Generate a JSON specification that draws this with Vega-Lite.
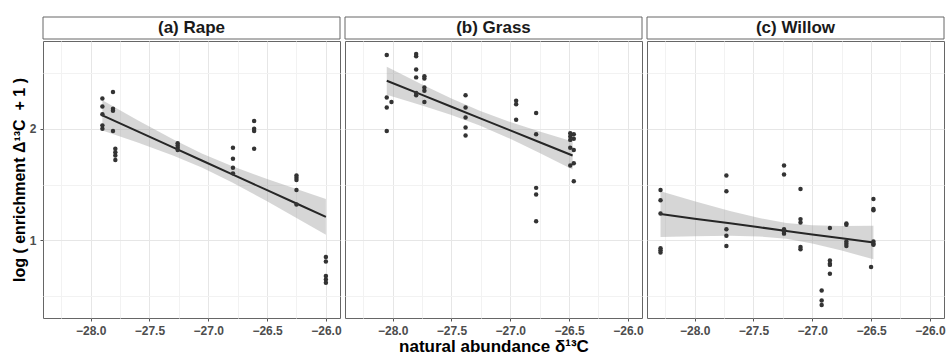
{
 "$schema": "https://vega.github.io/schema/vega-lite/v6.json",
 "background": "white",
 "padding": {"left": 10, "top": 16, "right": 0, "bottom": 0},
 "spacing": 2,
 "config": {
  "view": {"stroke": "#666666", "strokeWidth": 1},
  "axis": {"domain": false, "grid": true, "labelFont": "Liberation Sans", "labelFontWeight": "bold", "labelFontSize": 12, "labelColor": "#4d4d4d", "tickColor": "#555555", "tickSize": 3, "labelPadding": 4, "titleFont": "Liberation Sans", "titleFontWeight": "bold", "titleFontSize": 17, "titleColor": "#000000", "titlePadding": 2, "labelOverlap": false}
 },
 "datasets": {
  "strips": [{"panel": "a", "label": "(a) Rape"}, {"panel": "b", "label": "(b) Grass"}, {"panel": "c", "label": "(c) Willow"}],
  "fit": [
   {"panel": "a", "x": -27.9, "y": 2.12, "lo": 1.985, "hi": 2.255},
   {"panel": "a", "x": -27.6, "y": 1.976, "lo": 1.876, "hi": 2.076},
   {"panel": "a", "x": -27.3, "y": 1.833, "lo": 1.761, "hi": 1.905},
   {"panel": "a", "x": -27.05, "y": 1.713, "lo": 1.65, "hi": 1.776},
   {"panel": "a", "x": -26.8, "y": 1.593, "lo": 1.521, "hi": 1.665},
   {"panel": "a", "x": -26.5, "y": 1.449, "lo": 1.349, "hi": 1.549},
   {"panel": "a", "x": -26.25, "y": 1.33, "lo": 1.201, "hi": 1.459},
   {"panel": "a", "x": -26.0, "y": 1.21, "lo": 1.05, "hi": 1.37},
   {"panel": "b", "x": -28.05, "y": 2.43, "lo": 2.305, "hi": 2.555},
   {"panel": "b", "x": -27.75, "y": 2.303, "lo": 2.209, "hi": 2.397},
   {"panel": "b", "x": -27.5, "y": 2.197, "lo": 2.123, "hi": 2.271},
   {"panel": "b", "x": -27.26, "y": 2.095, "lo": 2.028, "hi": 2.162},
   {"panel": "b", "x": -27.0, "y": 1.985, "lo": 1.91, "hi": 2.06},
   {"panel": "b", "x": -26.75, "y": 1.879, "lo": 1.783, "hi": 1.974},
   {"panel": "b", "x": -26.47, "y": 1.76, "lo": 1.635, "hi": 1.885},
   {"panel": "c", "x": -28.29, "y": 1.235, "lo": 1.03, "hi": 1.44},
   {"panel": "c", "x": -28.0, "y": 1.194, "lo": 1.037, "hi": 1.351},
   {"panel": "c", "x": -27.7, "y": 1.152, "lo": 1.04, "hi": 1.263},
   {"panel": "c", "x": -27.45, "y": 1.117, "lo": 1.035, "hi": 1.199},
   {"panel": "c", "x": -27.22, "y": 1.084, "lo": 1.013, "hi": 1.155},
   {"panel": "c", "x": -27.0, "y": 1.053, "lo": 0.972, "hi": 1.134},
   {"panel": "c", "x": -26.75, "y": 1.018, "lo": 0.908, "hi": 1.128},
   {"panel": "c", "x": -26.48, "y": 0.98, "lo": 0.83, "hi": 1.13}
  ],
  "pts": [
   {"panel": "a", "x": -27.9, "y": 2.27}, {"panel": "a", "x": -27.9, "y": 2.2}, {"panel": "a", "x": -27.9, "y": 2.13}, {"panel": "a", "x": -27.9, "y": 2.03}, {"panel": "a", "x": -27.9, "y": 2.0},
   {"panel": "a", "x": -27.81, "y": 2.33}, {"panel": "a", "x": -27.81, "y": 2.18}, {"panel": "a", "x": -27.81, "y": 2.16}, {"panel": "a", "x": -27.81, "y": 1.98},
   {"panel": "a", "x": -27.79, "y": 1.82}, {"panel": "a", "x": -27.79, "y": 1.79}, {"panel": "a", "x": -27.79, "y": 1.76}, {"panel": "a", "x": -27.79, "y": 1.72},
   {"panel": "a", "x": -27.26, "y": 1.87}, {"panel": "a", "x": -27.26, "y": 1.85}, {"panel": "a", "x": -27.26, "y": 1.83}, {"panel": "a", "x": -27.26, "y": 1.81},
   {"panel": "a", "x": -26.79, "y": 1.83}, {"panel": "a", "x": -26.79, "y": 1.73}, {"panel": "a", "x": -26.79, "y": 1.65}, {"panel": "a", "x": -26.79, "y": 1.6},
   {"panel": "a", "x": -26.61, "y": 2.07}, {"panel": "a", "x": -26.61, "y": 2.0}, {"panel": "a", "x": -26.61, "y": 1.98}, {"panel": "a", "x": -26.61, "y": 1.82},
   {"panel": "a", "x": -26.25, "y": 1.58}, {"panel": "a", "x": -26.25, "y": 1.56}, {"panel": "a", "x": -26.25, "y": 1.54}, {"panel": "a", "x": -26.25, "y": 1.45}, {"panel": "a", "x": -26.25, "y": 1.32},
   {"panel": "a", "x": -26.0, "y": 0.85}, {"panel": "a", "x": -26.0, "y": 0.81}, {"panel": "a", "x": -26.0, "y": 0.68}, {"panel": "a", "x": -26.0, "y": 0.65}, {"panel": "a", "x": -26.0, "y": 0.62},
   {"panel": "b", "x": -28.05, "y": 2.66}, {"panel": "b", "x": -28.05, "y": 2.28}, {"panel": "b", "x": -28.05, "y": 2.19}, {"panel": "b", "x": -28.05, "y": 1.98}, {"panel": "b", "x": -28.01, "y": 2.24},
   {"panel": "b", "x": -27.8, "y": 2.67}, {"panel": "b", "x": -27.8, "y": 2.65}, {"panel": "b", "x": -27.8, "y": 2.53}, {"panel": "b", "x": -27.8, "y": 2.46}, {"panel": "b", "x": -27.8, "y": 2.32}, {"panel": "b", "x": -27.8, "y": 2.3},
   {"panel": "b", "x": -27.73, "y": 2.47}, {"panel": "b", "x": -27.73, "y": 2.45}, {"panel": "b", "x": -27.73, "y": 2.37}, {"panel": "b", "x": -27.73, "y": 2.34}, {"panel": "b", "x": -27.73, "y": 2.24},
   {"panel": "b", "x": -27.38, "y": 2.3}, {"panel": "b", "x": -27.38, "y": 2.19}, {"panel": "b", "x": -27.38, "y": 2.1}, {"panel": "b", "x": -27.38, "y": 2.01}, {"panel": "b", "x": -27.38, "y": 1.94},
   {"panel": "b", "x": -26.95, "y": 2.25}, {"panel": "b", "x": -26.95, "y": 2.22}, {"panel": "b", "x": -26.95, "y": 2.08},
   {"panel": "b", "x": -26.78, "y": 2.14}, {"panel": "b", "x": -26.78, "y": 1.95}, {"panel": "b", "x": -26.78, "y": 1.47}, {"panel": "b", "x": -26.78, "y": 1.41}, {"panel": "b", "x": -26.78, "y": 1.17},
   {"panel": "b", "x": -26.49, "y": 1.96}, {"panel": "b", "x": -26.49, "y": 1.93}, {"panel": "b", "x": -26.49, "y": 1.9}, {"panel": "b", "x": -26.49, "y": 1.83}, {"panel": "b", "x": -26.49, "y": 1.67},
   {"panel": "b", "x": -26.46, "y": 1.95}, {"panel": "b", "x": -26.46, "y": 1.91}, {"panel": "b", "x": -26.46, "y": 1.81}, {"panel": "b", "x": -26.46, "y": 1.69}, {"panel": "b", "x": -26.46, "y": 1.53},
   {"panel": "c", "x": -28.29, "y": 1.45}, {"panel": "c", "x": -28.29, "y": 1.36}, {"panel": "c", "x": -28.29, "y": 1.24}, {"panel": "c", "x": -28.29, "y": 0.93}, {"panel": "c", "x": -28.29, "y": 0.91}, {"panel": "c", "x": -28.29, "y": 0.89},
   {"panel": "c", "x": -27.73, "y": 1.58}, {"panel": "c", "x": -27.73, "y": 1.44}, {"panel": "c", "x": -27.73, "y": 1.1}, {"panel": "c", "x": -27.73, "y": 1.04}, {"panel": "c", "x": -27.73, "y": 0.95},
   {"panel": "c", "x": -27.24, "y": 1.67}, {"panel": "c", "x": -27.24, "y": 1.59}, {"panel": "c", "x": -27.24, "y": 1.1}, {"panel": "c", "x": -27.24, "y": 1.08}, {"panel": "c", "x": -27.24, "y": 1.06},
   {"panel": "c", "x": -27.1, "y": 1.46}, {"panel": "c", "x": -27.1, "y": 1.19}, {"panel": "c", "x": -27.1, "y": 1.16}, {"panel": "c", "x": -27.1, "y": 0.94}, {"panel": "c", "x": -27.1, "y": 0.92},
   {"panel": "c", "x": -26.92, "y": 0.55}, {"panel": "c", "x": -26.92, "y": 0.46}, {"panel": "c", "x": -26.92, "y": 0.42},
   {"panel": "c", "x": -26.85, "y": 1.11}, {"panel": "c", "x": -26.85, "y": 0.82}, {"panel": "c", "x": -26.85, "y": 0.79}, {"panel": "c", "x": -26.85, "y": 0.78}, {"panel": "c", "x": -26.85, "y": 0.7},
   {"panel": "c", "x": -26.71, "y": 1.15}, {"panel": "c", "x": -26.71, "y": 1.14}, {"panel": "c", "x": -26.71, "y": 0.99}, {"panel": "c", "x": -26.71, "y": 0.97}, {"panel": "c", "x": -26.71, "y": 0.95},
   {"panel": "c", "x": -26.48, "y": 1.37}, {"panel": "c", "x": -26.48, "y": 1.28}, {"panel": "c", "x": -26.48, "y": 1.27}, {"panel": "c", "x": -26.48, "y": 0.99}, {"panel": "c", "x": -26.48, "y": 0.97}, {"panel": "c", "x": -26.48, "y": 0.96},
   {"panel": "c", "x": -26.5, "y": 0.76}
  ]
 },
 "hconcat": [
  {
   "spacing": 0,
   "vconcat": [
    {"width": 297, "height": 22, "data": {"name": "strips"}, "transform": [{"filter": "datum.panel == 'a'"}],
     "layer": [
      {"mark": {"type": "rect", "fill": "#ffffff", "stroke": "#666666", "strokeWidth": 1}, "encoding": {}},
      {"mark": {"type": "text", "font": "Liberation Sans", "fontWeight": "bold", "fontSize": 17, "color": "#1a1a1a"}, "encoding": {"text": {"field": "label"}}}
     ]},
    {"width": 297, "height": 277,
     "encoding": {
      "x": {"field": "x", "type": "quantitative", "scale": {"domain": [-28.405, -25.88], "nice": false, "zero": false},
            "axis": {"values": [-28.25, -28, -27.75, -27.5, -27.25, -27, -26.75, -26.5, -26.25, -26], "format": ".1f", "title": null,
                     "labelOpacity": {"condition": {"test": "abs(datum.value*2 - round(datum.value*2)) > 0.01", "value": 0}, "value": 1},
                     "gridColor": {"condition": {"test": "abs(datum.value*2 - round(datum.value*2)) > 0.01", "value": "#f2f2f2"}, "value": "#e6e6e6"},
                     "tickOpacity": {"condition": {"test": "abs(datum.value*2 - round(datum.value*2)) > 0.01", "value": 0}, "value": 1}}}
     },
     "layer": [
      {"data": {"name": "fit"}, "transform": [{"filter": "datum.panel == 'a'"}], "mark": {"type": "area", "color": "#999999", "opacity": 0.4},
       "encoding": {"y": {"field": "lo", "type": "quantitative", "scale": {"domain": [0.304, 2.786], "nice": false, "zero": false},
            "axis": {"values": [0.5, 1, 1.5, 2, 2.5], "format": "~g", "title": "log ( enrichment Δ¹³C\u00a0 + 1 )", "titleFontSize": 16, "titlePadding": -8,
                     "labelOpacity": {"condition": {"test": "abs(datum.value - round(datum.value)) > 0.01", "value": 0}, "value": 1},
                     "gridColor": {"condition": {"test": "abs(datum.value - round(datum.value)) > 0.01", "value": "#f2f2f2"}, "value": "#e6e6e6"},
                     "tickOpacity": {"condition": {"test": "abs(datum.value - round(datum.value)) > 0.01", "value": 0}, "value": 1}}}, "y2": {"field": "hi"}}},
      {"data": {"name": "fit"}, "transform": [{"filter": "datum.panel == 'a'"}], "mark": {"type": "line", "color": "#262626", "strokeWidth": 2}, "encoding": {"y": {"field": "y", "type": "quantitative"}}},
      {"data": {"name": "pts"}, "transform": [{"filter": "datum.panel == 'a'"}], "mark": {"type": "circle", "color": "#333333", "size": 20, "opacity": 1}, "encoding": {"y": {"field": "y", "type": "quantitative"}}}
     ]}
   ]
  },
  {
   "spacing": 0,
   "vconcat": [
    {"width": 297, "height": 22, "data": {"name": "strips"}, "transform": [{"filter": "datum.panel == 'b'"}],
     "layer": [
      {"mark": {"type": "rect", "fill": "#ffffff", "stroke": "#666666", "strokeWidth": 1}, "encoding": {}},
      {"mark": {"type": "text", "font": "Liberation Sans", "fontWeight": "bold", "fontSize": 17, "color": "#1a1a1a"}, "encoding": {"text": {"field": "label"}}}
     ]},
    {"width": 297, "height": 277,
     "encoding": {
      "x": {"field": "x", "type": "quantitative", "scale": {"domain": [-28.405, -25.88], "nice": false, "zero": false},
            "axis": {"values": [-28.25, -28, -27.75, -27.5, -27.25, -27, -26.75, -26.5, -26.25, -26], "format": ".1f", "title": "natural abundance δ¹³C",
                     "labelOpacity": {"condition": {"test": "abs(datum.value*2 - round(datum.value*2)) > 0.01", "value": 0}, "value": 1},
                     "gridColor": {"condition": {"test": "abs(datum.value*2 - round(datum.value*2)) > 0.01", "value": "#f2f2f2"}, "value": "#e6e6e6"},
                     "tickOpacity": {"condition": {"test": "abs(datum.value*2 - round(datum.value*2)) > 0.01", "value": 0}, "value": 1}}}
     },
     "layer": [
      {"data": {"name": "fit"}, "transform": [{"filter": "datum.panel == 'b'"}], "mark": {"type": "area", "color": "#999999", "opacity": 0.4},
       "encoding": {"y": {"field": "lo", "type": "quantitative", "scale": {"domain": [0.304, 2.786], "nice": false, "zero": false},
            "axis": {"values": [0.5, 1, 1.5, 2, 2.5], "labels": false, "ticks": false, "title": null,
                     "gridColor": {"condition": {"test": "abs(datum.value - round(datum.value)) > 0.01", "value": "#f2f2f2"}, "value": "#e6e6e6"}}}, "y2": {"field": "hi"}}},
      {"data": {"name": "fit"}, "transform": [{"filter": "datum.panel == 'b'"}], "mark": {"type": "line", "color": "#262626", "strokeWidth": 2}, "encoding": {"y": {"field": "y", "type": "quantitative"}}},
      {"data": {"name": "pts"}, "transform": [{"filter": "datum.panel == 'b'"}], "mark": {"type": "circle", "color": "#333333", "size": 20, "opacity": 1}, "encoding": {"y": {"field": "y", "type": "quantitative"}}}
     ]}
   ]
  },
  {
   "spacing": 0,
   "vconcat": [
    {"width": 297, "height": 22, "data": {"name": "strips"}, "transform": [{"filter": "datum.panel == 'c'"}],
     "layer": [
      {"mark": {"type": "rect", "fill": "#ffffff", "stroke": "#666666", "strokeWidth": 1}, "encoding": {}},
      {"mark": {"type": "text", "font": "Liberation Sans", "fontWeight": "bold", "fontSize": 17, "color": "#1a1a1a"}, "encoding": {"text": {"field": "label"}}}
     ]},
    {"width": 297, "height": 277,
     "encoding": {
      "x": {"field": "x", "type": "quantitative", "scale": {"domain": [-28.405, -25.88], "nice": false, "zero": false},
            "axis": {"values": [-28.25, -28, -27.75, -27.5, -27.25, -27, -26.75, -26.5, -26.25, -26], "format": ".1f", "title": null,
                     "labelOpacity": {"condition": {"test": "abs(datum.value*2 - round(datum.value*2)) > 0.01", "value": 0}, "value": 1},
                     "gridColor": {"condition": {"test": "abs(datum.value*2 - round(datum.value*2)) > 0.01", "value": "#f2f2f2"}, "value": "#e6e6e6"},
                     "tickOpacity": {"condition": {"test": "abs(datum.value*2 - round(datum.value*2)) > 0.01", "value": 0}, "value": 1}}}
     },
     "layer": [
      {"data": {"name": "fit"}, "transform": [{"filter": "datum.panel == 'c'"}], "mark": {"type": "area", "color": "#999999", "opacity": 0.4},
       "encoding": {"y": {"field": "lo", "type": "quantitative", "scale": {"domain": [0.304, 2.786], "nice": false, "zero": false},
            "axis": {"values": [0.5, 1, 1.5, 2, 2.5], "labels": false, "ticks": false, "title": null,
                     "gridColor": {"condition": {"test": "abs(datum.value - round(datum.value)) > 0.01", "value": "#f2f2f2"}, "value": "#e6e6e6"}}}, "y2": {"field": "hi"}}},
      {"data": {"name": "fit"}, "transform": [{"filter": "datum.panel == 'c'"}], "mark": {"type": "line", "color": "#262626", "strokeWidth": 2}, "encoding": {"y": {"field": "y", "type": "quantitative"}}},
      {"data": {"name": "pts"}, "transform": [{"filter": "datum.panel == 'c'"}], "mark": {"type": "circle", "color": "#333333", "size": 20, "opacity": 1}, "encoding": {"y": {"field": "y", "type": "quantitative"}}}
     ]}
   ]
  }
 ]
}
